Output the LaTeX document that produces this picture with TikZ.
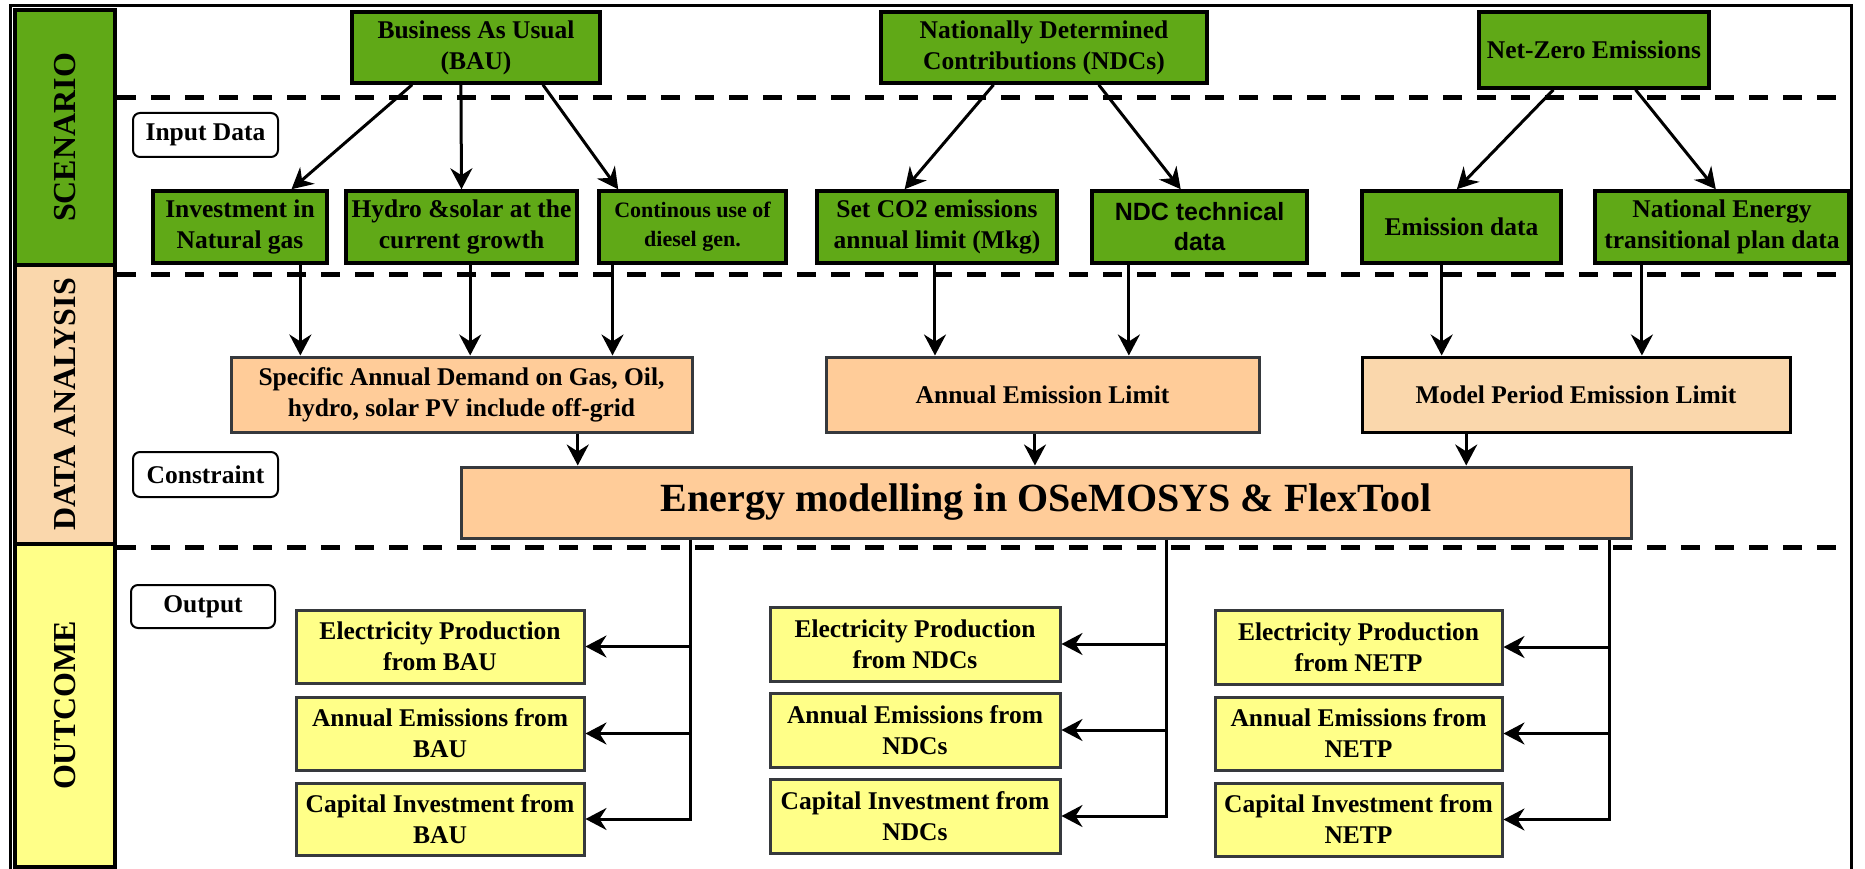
\documentclass[tikz,border=0pt]{standalone}
\usepackage{fontspec}
\setmainfont{Liberation Serif}
\newfontfamily\arialfont{Liberation Sans}
\usetikzlibrary{arrows.meta,calc}
\definecolor{scgreen}{HTML}{60A917}
\definecolor{dapeach}{HTML}{FFCC99}
\definecolor{dalight}{HTML}{FAD7AC}
\definecolor{ocyellow}{HTML}{FFFF88}
\definecolor{boxedge}{HTML}{36393D}
\begin{document}
\begin{tikzpicture}[x=1pt,y=-1pt,
  txt/.style={font=\fontsize{25.5}{31}\selectfont\bfseries, align=center, inner sep=0pt},
  gbox/.style={txt, draw=black, line width=3.5pt, fill=scgreen},
  pbox/.style={txt, draw=boxedge, line width=3pt, fill=dapeach},
  ybox/.style={txt, draw=boxedge, line width=3pt, fill=ocyellow},
  tag/.style={txt, draw=black, line width=2pt, fill=white, rounded corners=7pt},
  band/.style={draw=black, line width=4pt, rotate=90, inner sep=0pt,
    font=\fontsize{32}{38}\selectfont\bfseries},
  sep/.style={line width=5pt, dash pattern=on 19pt off 15pt},
  arr/.style={line width=3pt, -{Stealth[length=21pt,width=22pt,inset=7pt]}},
]
\useasboundingbox (0,0) rectangle (1865,869);
\fill[white] (0,0) rectangle (1865,869);

% section separators
\draw[sep] (117,98) -- (1843,98);
\draw[sep] (117,274) -- (1843,274);
\draw[sep] (117,547) -- (1843,547);

% outer frame
\draw[line width=3pt] (10,869) -- (10,6) -- (1851,6) -- (1851,869);

% stage column
\node[band, fill=scgreen, minimum width=255pt, minimum height=100pt] (colsc) at (65,137.5) {SCENARIO};
\node[band, fill=dalight, minimum width=279pt, minimum height=100pt] (colda) at (65,404.5) {DATA ANALYSIS};
\node[band, fill=ocyellow, minimum width=323pt, minimum height=100pt] (colou) at (65,705.5) {OUTCOME};

% stage tags
\node[tag, minimum width=145pt, minimum height=44pt] (inp) at (205.5,135) {Input Data};
\node[tag, minimum width=145pt, minimum height=45pt] (con) at (205.5,474.5) {Constraint};
\node[tag, minimum width=144pt, minimum height=43pt] (outp) at (203,606.5) {Output};

% scenarios
\node[gbox, minimum width=248pt, minimum height=71pt] (bau) at (476,47.5) {Business As Usual\\(BAU)};
\node[gbox, minimum width=326pt, minimum height=71pt] (ndc) at (1044,47.5) {Nationally Determined\\Contributions (NDCs)};
\node[gbox, minimum width=230pt, minimum height=76pt] (nz) at (1594,50) {Net-Zero Emissions};

% input data
\node[gbox, minimum width=174pt, minimum height=72pt] (inv) at (240,227) {Investment in\\Natural gas};
\node[gbox, minimum width=231pt, minimum height=72pt] (hyd) at (461.5,227) {Hydro \&solar at the\\current growth};
\node[gbox, minimum width=187pt, minimum height=72pt, font=\fontsize{22}{29}\selectfont\bfseries] (dsl) at (692.5,227) {Continous use of\\diesel gen.};
\node[gbox, minimum width=240pt, minimum height=72pt] (co2) at (937,227) {Set CO2 emissions\\annual limit (Mkg)};
\node[gbox, minimum width=215pt, minimum height=72pt, font=\fontsize{25}{30}\selectfont\arialfont\bfseries] (tech) at (1199.5,227) {NDC technical\\data};
\node[gbox, minimum width=199pt, minimum height=72pt] (emd) at (1461.5,227) {Emission data};
\node[gbox, minimum width=254pt, minimum height=72pt] (nat) at (1722,227) {National Energy\\transitional plan data};

% constraints
\node[pbox, minimum width=461pt, minimum height=75pt] (spec) at (461.5,394.5) {Specific Annual Demand on Gas, Oil,\\hydro, solar PV include off-grid};
\node[pbox, minimum width=433pt, minimum height=75pt] (ael) at (1042.5,394.5) {Annual Emission Limit};
\node[pbox, draw=black, fill=dalight, minimum width=428pt, minimum height=75pt] (mpe) at (1576,394.5) {Model Period Emission Limit};
\node[pbox, minimum width=1170pt, minimum height=71pt, font=\fontsize{40}{46}\selectfont\bfseries] (energy) at (1046,502.5) {Energy modelling in OSeMOSYS \& FlexTool};

% outcomes
\node[ybox, minimum width=288pt, minimum height=73pt] (b1) at (440,646.5) {Electricity Production\\from BAU};
\node[ybox, minimum width=288pt, minimum height=73pt] (b2) at (440,733.5) {Annual Emissions from\\BAU};
\node[ybox, minimum width=288pt, minimum height=72pt] (b3) at (440,819) {Capital Investment from\\BAU};
\node[ybox, minimum width=290pt, minimum height=74pt] (n1) at (915,644) {Electricity Production\\from NDCs};
\node[ybox, minimum width=290pt, minimum height=74pt] (n2) at (915,730) {Annual Emissions from\\NDCs};
\node[ybox, minimum width=290pt, minimum height=74pt] (n3) at (915,816) {Capital Investment from\\NDCs};
\node[ybox, minimum width=287pt, minimum height=74pt] (t1) at (1358.5,647) {Electricity Production\\from NETP};
\node[ybox, minimum width=287pt, minimum height=73pt] (t2) at (1358.5,733.5) {Annual Emissions from\\NETP};
\node[ybox, minimum width=287pt, minimum height=73pt] (t3) at (1358.5,819.5) {Capital Investment from\\NETP};

% scenario -> input data
\draw[arr] ($(bau.south west)!0.246!(bau.south east)$) -- ($(inv.north west)!0.79!(inv.north east)$);
\draw[arr] ($(bau.south west)!0.44!(bau.south east)$) -- (hyd.north);
\draw[arr] ($(bau.south west)!0.766!(bau.south east)$) -- ($(dsl.north west)!0.11!(dsl.north east)$);
\draw[arr] ($(ndc.south west)!0.347!(ndc.south east)$) -- ($(co2.north west)!0.367!(co2.north east)$);
\draw[arr] ($(ndc.south west)!0.666!(ndc.south east)$) -- ($(tech.north west)!0.414!(tech.north east)$);
\draw[arr] ($(nz.south west)!0.326!(nz.south east)$) -- ($(emd.north west)!0.477!(emd.north east)$);
\draw[arr] ($(nz.south west)!0.678!(nz.south east)$) -- ($(nat.north west)!0.476!(nat.north east)$);

% input data -> constraints
\coordinate (v1) at ($(inv.south west)!0.84!(inv.south east)$);
\coordinate (v2) at ($(hyd.south west)!0.537!(hyd.south east)$);
\coordinate (v3) at ($(dsl.south west)!0.08!(dsl.south east)$);
\coordinate (v4) at ($(co2.south west)!0.4917!(co2.south east)$);
\coordinate (v5) at ($(tech.south west)!0.1767!(tech.south east)$);
\coordinate (v6) at ($(emd.south west)!0.402!(emd.south east)$);
\coordinate (v7) at ($(nat.south west)!0.189!(nat.south east)$);
\draw[arr] (v1) -- (v1 |- spec.north);
\draw[arr] (v2) -- (v2 |- spec.north);
\draw[arr] (v3) -- (v3 |- spec.north);
\draw[arr] (v4) -- (v4 |- ael.north);
\draw[arr] (v5) -- (v5 |- ael.north);
\draw[arr] (v6) -- (v6 |- mpe.north);
\draw[arr] (v7) -- (v7 |- mpe.north);

% constraints -> model
\coordinate (c1) at ($(spec.south west)!0.7505!(spec.south east)$);
\coordinate (c2) at ($(ael.south west)!0.4827!(ael.south east)$);
\coordinate (c3) at ($(mpe.south west)!0.2453!(mpe.south east)$);
\draw[arr] (c1) -- (c1 |- energy.north);
\draw[arr] (c2) -- (c2 |- energy.north);
\draw[arr] (c3) -- (c3 |- energy.north);

% model -> outcomes
\coordinate (e1) at ($(energy.south west)!0.1966!(energy.south east)$);
\coordinate (e2) at ($(energy.south west)!0.6026!(energy.south east)$);
\coordinate (e3) at ($(energy.south west)!0.9803!(energy.south east)$);
\draw[arr] (e1) |- (b3.east);
\draw[arr] (e1 |- b1.east) -- (b1.east);
\draw[arr] (e1 |- b2.east) -- (b2.east);
\draw[arr] (e2) |- (n3.east);
\draw[arr] (e2 |- n1.east) -- (n1.east);
\draw[arr] (e2 |- n2.east) -- (n2.east);
\draw[arr] (e3) |- (t3.east);
\draw[arr] (e3 |- t1.east) -- (t1.east);
\draw[arr] (e3 |- t2.east) -- (t2.east);
\end{tikzpicture}
\end{document}
